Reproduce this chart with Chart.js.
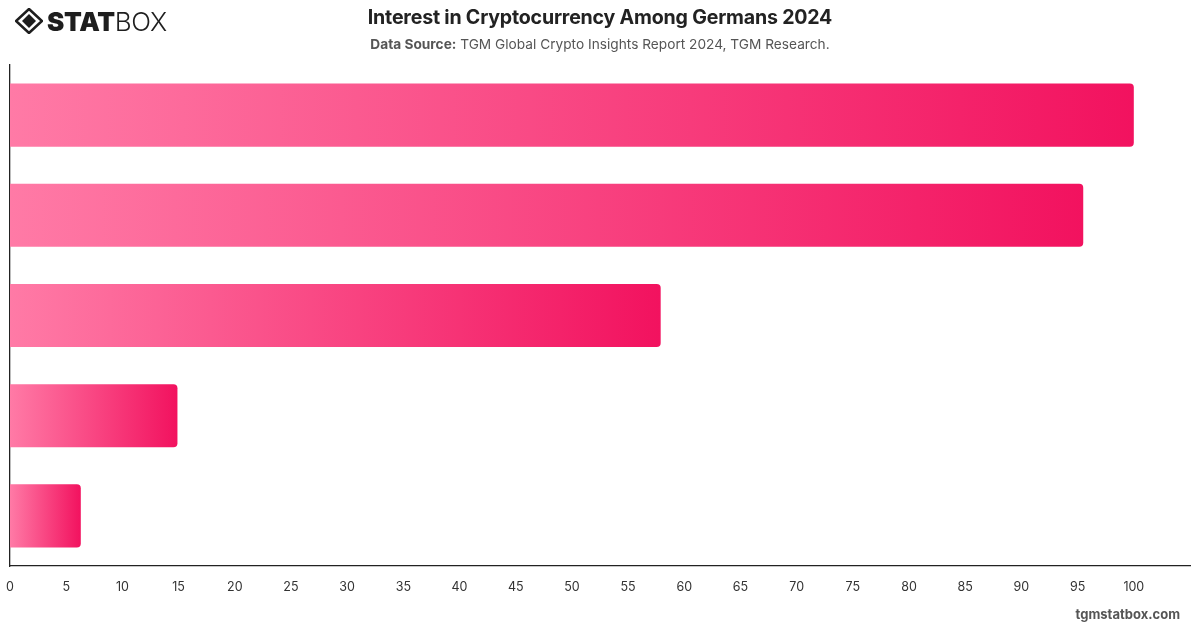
<!DOCTYPE html>
<html>
<head>
<meta charset="utf-8">
<script src="https://cdn.jsdelivr.net/npm/chart.js@4"></script>
<style>
  html, body { margin:0; padding:0; background:#fff; width:1200px; height:628px; overflow:hidden; font-family: Inter, "Liberation Sans", sans-serif; }
  #title { position:absolute; top:5px; left:0; width:1200px; text-align:center; font-size:19.6px; font-weight:700; color:#222; letter-spacing:-0.2px; }
  #sub { position:absolute; top:36px; left:0; width:1200px; text-align:center; font-size:13.7px; color:#555; }
  #sub b { color:#555; }
  #logo { position:absolute; left:15px; top:7px; height:28px; display:flex; align-items:center; }
  #logo .t1 { font-weight:900; font-size:26px; color:#1e1e1e; letter-spacing:-0.3px; margin-left:4px; }
  #logo .t2 { font-weight:300; font-size:26px; color:#1e1e1e; letter-spacing:-0.3px; }
  #foot { position:absolute; right:20px; top:606px; font-size:13px; font-weight:700; color:#555; }
  #wrap { position:absolute; left:0; top:0; width:1200px; height:628px; }
</style>
</head>
<body>
<div id="wrap"><canvas id="c" width="1200" height="628"></canvas></div>
<div id="logo">
  <svg width="28" height="26" viewBox="0 0 28 26">
    <polygon points="14,1 27,13 14,25 1,13" fill="none" stroke="#1e1e1e" stroke-width="2.6"/>
    <polygon points="14,6 21,13 14,20 7,13" fill="#1e1e1e"/>
  </svg>
  <span class="t1">STAT</span><span class="t2">BOX</span>
</div>
<div id="title">Interest in Cryptocurrency Among Germans 2024</div>
<div id="sub"><b>Data Source:</b> TGM Global Crypto Insights Report 2024, TGM Research.</div>
<div id="foot">tgmstatbox.com</div>
<script>
const categories = ["Category 1", "Category 2", "Category 3", "Category 4", "Category 5"];
const values = [100, 95.5, 57.9, 14.9, 6.3];
const xTickMax = 100;

function barGradient(ctx) {
  const chart = ctx.chart;
  const xs = chart.scales && chart.scales.x;
  if (!chart.chartArea || !xs || ctx.dataIndex === undefined) return '#f5196a';
  const x0 = xs.getPixelForValue(0);
  const x1 = xs.getPixelForValue(values[ctx.dataIndex]);
  if (!isFinite(x0) || !isFinite(x1) || x1 - x0 < 1) return '#f5196a';
  const g = chart.ctx.createLinearGradient(x0, 0, x1, 0);
  g.addColorStop(0, '#ff7aa6');
  g.addColorStop(1, '#f2125f');
  return g;
}

new Chart(document.getElementById('c'), {
  type: 'bar',
  data: {
    labels: categories,
    datasets: [{
      data: values,
      backgroundColor: barGradient,
      borderRadius: 4,
      borderSkipped: 'start',
      categoryPercentage: 0.7,
      barPercentage: 0.9
    }]
  },
  options: {
    indexAxis: 'y',
    responsive: false,
    animation: false,
    layout: { padding: { top: 65, left: 10, right: 10, bottom: 19 } },
    plugins: { legend: { display: false }, tooltip: { enabled: false } },
    scales: {
      x: {
        min: 0, max: 105,
        grid: { display: false, drawTicks: false },
        border: { display: true, color: '#222', width: 1.3 },
        afterFit: (s) => { s.paddingLeft = 0; s.paddingRight = 0; },
        ticks: {
          stepSize: 5,
          padding: 14,
          color: '#333',
          font: { size: 12.5, family: 'Inter, "Liberation Sans", sans-serif' },
          maxRotation: 0,
          autoSkip: false,
          callback: (v) => v <= xTickMax ? v : ''
        }
      },
      y: {
        grid: { display: false, drawTicks: false },
        border: { display: true, color: '#222', width: 1.3 },
        ticks: { display: false }
      }
    }
  }
});
</script>
</body>
</html>
